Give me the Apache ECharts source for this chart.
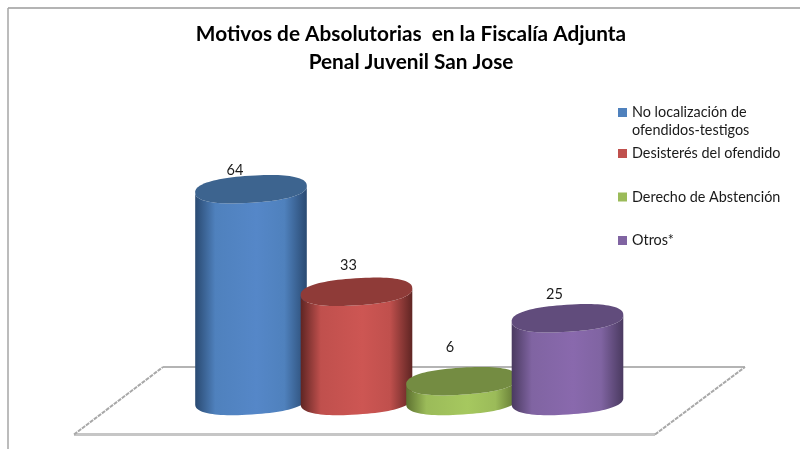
<!DOCTYPE html>
<html>
<head>
<meta charset="utf-8">
<style>html,body{margin:0;padding:0;background:#fff}#c{width:800px;height:449px}</style>
<script src="https://cdn.jsdelivr.net/npm/echarts@6/dist/echarts.min.js"></script>
</head>
<body>
<div id="c"></div>
<script>
const titleText = 'Motivos de Absolutorias  en la Fiscalía Adjunta\nPenal Juvenil San Jose';
const categories = ['No localización de\nofendidos-testigos', 'Desisterés del ofendido', 'Derecho de Abstención', 'Otros*'];
const values = [64, 33, 6, 25];

const baseColors = ['#4f81bd', '#c0504d', '#9bbb59', '#8064a2'];
const brightColors = ['#5587c8', '#cd5653', '#a6c85f', '#8969ad'];
const edgeColors = ['#2a4a72', '#5f2523', '#5d7130', '#4a3a60'];
const topColors = ['#3d648f', '#8f3b38', '#748c42', '#614c7c'];
const labelNudge = [[-16, -19], [-8, -26], [-12, -34], [-13, -24]];

const RY = 13.5, TILT = 0.065, ROUND = 0.85;

function ellipsePoint(cx, cy, rx, t) {
  const c = Math.cos(t), s = Math.sin(t);
  const x = rx * Math.sign(c) * Math.pow(Math.abs(c), ROUND);
  const y = RY * Math.sign(s) * Math.pow(Math.abs(s), ROUND);
  return [cx + x * Math.cos(TILT) + y * Math.sin(TILT), cy - x * Math.sin(TILT) + y * Math.cos(TILT)];
}

function renderCylinder(params, api) {
  const i = api.value(0);
  const top = api.coord([i, api.value(1)]);
  const base = api.coord([i, 0]);
  const rx = api.size([1, 0])[0] * 0.53;
  const body = [];
  for (let a = 0; a <= 48; a++) body.push(ellipsePoint(base[0], base[1], rx, Math.PI * a / 48));
  for (let a = 48; a >= 0; a--) body.push(ellipsePoint(top[0], top[1], rx, Math.PI * a / 48));
  const cap = [];
  for (let a = 0; a < 96; a++) cap.push(ellipsePoint(top[0], top[1], rx, Math.PI * a / 48));
  const grad = {
    type: 'linear', x: 0, y: 0, x2: 1, y2: 0,
    colorStops: [
      { offset: 0, color: edgeColors[i] },
      { offset: 0.18, color: baseColors[i] },
      { offset: 0.55, color: brightColors[i] },
      { offset: 0.8, color: baseColors[i] },
      { offset: 1, color: edgeColors[i] }
    ]
  };
  return {
    type: 'group',
    children: [
      { type: 'polygon', shape: { points: body }, style: { fill: grad } },
      { type: 'polygon', shape: { points: cap }, style: { fill: topColors[i] } },
      { type: 'text', x: top[0] + labelNudge[i][0], y: top[1] + labelNudge[i][1],
        style: { text: String(api.value(1)), fill: '#1a1a1a', font: '14.5px Lato', align: 'center', verticalAlign: 'middle' } }
    ]
  };
}

const chart = echarts.init(document.getElementById('c'), null, { renderer: 'canvas' });
const legendBase = { orient: 'vertical', left: 618, itemWidth: 9, itemHeight: 9, padding: 0, icon: 'rect',
  textStyle: { fontFamily: 'Lato', fontSize: 14.4, color: '#1a1a1a', lineHeight: 18 } };

chart.setOption({
  animation: false,
  backgroundColor: '#fff',
  title: { text: titleText, left: 406, top: 15, textAlign: 'center',
    textStyle: { fontFamily: 'Lato', fontWeight: 'bold', fontSize: 20.8, lineHeight: 28, color: '#000' } },
  legend: [
    Object.assign({}, legendBase, { top: 85.5, data: [categories[0]], itemGap: 0,
      formatter: n => '\n' + n }),
    Object.assign({}, legendBase, { top: 144.5, data: categories.slice(1), itemGap: 25.5 })
  ],
  grid: { left: 198.25, width: 422, top: 80, bottom: 48 },
  xAxis: { type: 'category', data: categories, show: false },
  yAxis: { type: 'value', min: 0, max: 97, show: false },
  graphic: [
    { type: 'line', shape: { x1: 8, y1: 8, x2: 800, y2: 8 }, style: { stroke: '#b4b4b4', lineWidth: 2 }, z: 0 },
    { type: 'line', shape: { x1: 8, y1: 8, x2: 8, y2: 449 }, style: { stroke: '#a6a6a6', lineWidth: 1.5 }, z: 0 },
    { type: 'line', shape: { x1: 163, y1: 367, x2: 745, y2: 367 }, style: { stroke: '#b4b4b4', lineWidth: 2 }, z: 0 },
    { type: 'line', shape: { x1: 74, y1: 434.5, x2: 655, y2: 434.5 }, style: { stroke: '#c6c6c6', lineWidth: 3 }, z: 0 },
    { type: 'line', shape: { x1: 74, y1: 434.5, x2: 163, y2: 367 }, style: { stroke: '#a8a8a8', lineWidth: 2, lineDash: [4, 1] }, z: 0 },
    { type: 'line', shape: { x1: 655, y1: 434.5, x2: 745, y2: 367 }, style: { stroke: '#a8a8a8', lineWidth: 2, lineDash: [4, 1] }, z: 0 }
  ],
  series: categories.map((name, i) => ({
    type: 'custom',
    name,
    coordinateSystem: 'cartesian2d',
    clip: false,
    z: 2 + i,
    itemStyle: { color: baseColors[i] },
    encode: { x: 0, y: 1 },
    data: [[i, values[i]]],
    renderItem: renderCylinder
  }))
});
</script>
</body>
</html>
